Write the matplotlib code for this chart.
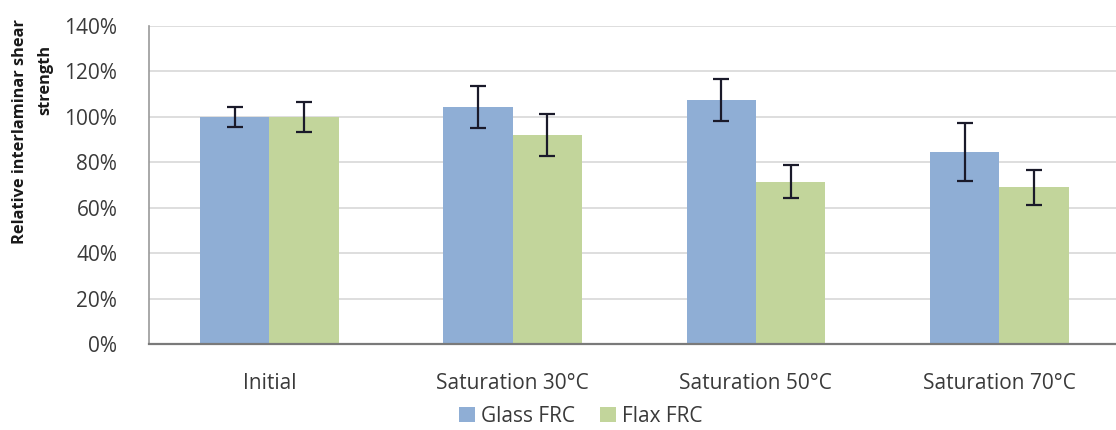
import matplotlib
matplotlib.use("Agg")
import matplotlib.pyplot as plt
import numpy as np
from matplotlib.ticker import PercentFormatter

# data
categories = ["Initial", "Saturation 30°C", "Saturation 50°C", "Saturation 70°C"]
glass = [100, 104.5, 107.5, 84.5]
glass_err = [4.5, 9.3, 9.3, 12.7]
flax = [100, 92, 71.5, 69]
flax_err = [6.5, 9.3, 7.4, 7.8]
yticks = [0, 20, 40, 60, 80, 100, 120, 140]

plt.rcParams['font.family'] = ['Open Sans', 'DejaVu Sans']

W, H = 1116, 430
fig = plt.figure(figsize=(W / 100, H / 100), dpi=100)
# axes in pixel coordinates: left 149, right 1116, bottom 344, top 26
ax = fig.add_axes([149.3 / W, (H - 344) / H, (W - 149.3) / W, (344 - 26) / H])

x = np.arange(len(categories))
bw = 0.285
err_kw = dict(ecolor='#1a1a2a', elinewidth=1.6, capsize=6, capthick=1.6)
ax.bar(x - bw / 2, glass, bw, yerr=glass_err, color='#8FAED5', label='Glass FRC',
       error_kw=err_kw, zorder=2)
ax.bar(x + bw / 2, flax, bw, yerr=flax_err, color='#C2D59B', label='Flax FRC',
       error_kw=err_kw, zorder=2)

ax.set_xlim(-0.493, 3.48)
ax.set_ylim(0, 140)
ax.set_yticks(yticks)
ax.yaxis.set_major_formatter(PercentFormatter(decimals=0))
ax.set_xticks(x)
ax.set_xticklabels(categories)
ax.grid(axis='y', color='#d4d4d4', linewidth=1.1, zorder=0)
ax.set_axisbelow(True)

for s in ['top', 'right']:
    ax.spines[s].set_visible(False)
ax.spines['left'].set_color('#9a9a9a')
ax.spines['left'].set_linewidth(1.2)
ax.spines['bottom'].set_color('#7a7a7a')
ax.spines['bottom'].set_linewidth(1.6)
ax.tick_params(axis='both', length=0, labelsize=15, colors='#3a3a3a')
ax.tick_params(axis='y', pad=23)
ax.tick_params(axis='x', pad=21)

# y label, two separate lines as in the reference
fig.text(20 / W, 1 - 132 / H, "Relative interlaminar shear", rotation=90,
         ha='center', va='center', fontsize=11.8, fontweight='bold', color='#1a1a1a')
fig.text(45 / W, 1 - 80 / H, "strength", rotation=90,
         ha='center', va='center', fontsize=11.8, fontweight='bold', color='#1a1a1a')

ax.legend(loc='center', bbox_to_anchor=(581 / W, 1 - 416 / H),
          bbox_transform=fig.transFigure, ncol=2, frameon=False, fontsize=15,
          handlelength=0.75, handleheight=0.75, handletextpad=0.3, columnspacing=1.2,
          labelcolor='#3a3a3a')

fig.savefig("out.png", dpi=100)
